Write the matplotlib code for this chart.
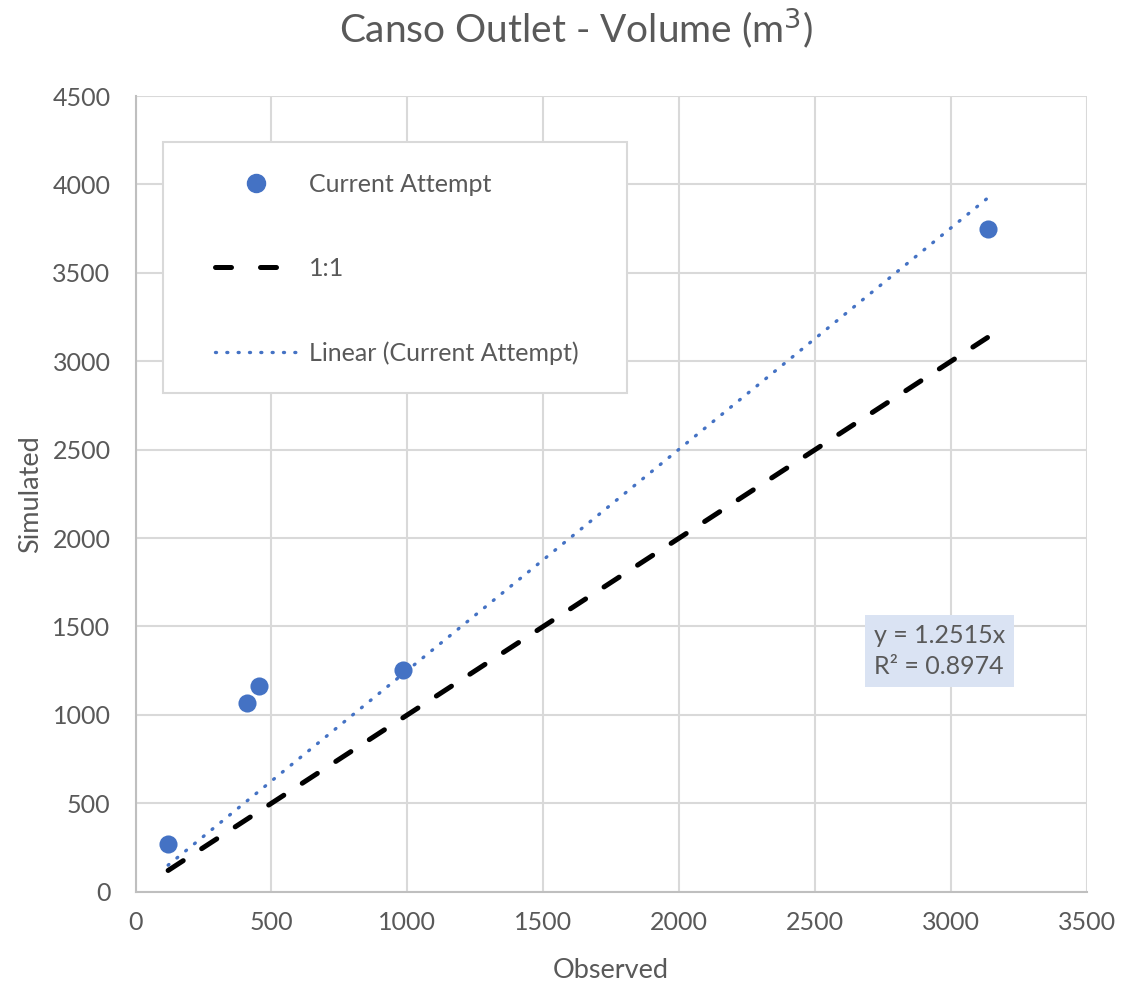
import matplotlib
matplotlib.use("Agg")
import matplotlib.pyplot as plt
from matplotlib.lines import Line2D
from matplotlib.patches import Rectangle

plt.rcParams['font.family'] = ['Lato', 'DejaVu Sans']

# Data
observed = [120, 409, 453, 985, 3134]
simulated = [268, 1066, 1163, 1254, 3748]
trend_slope = 1.2515
r_squared = 0.8974
x_ticks = [0, 500, 1000, 1500, 2000, 2500, 3000, 3500]
y_ticks = [0, 500, 1000, 1500, 2000, 2500, 3000, 3500, 4000, 4500]

W, H = 1123, 990
fig = plt.figure(figsize=(W / 100, H / 100), dpi=100)
ax = fig.add_axes([135.5 / W, 1 - 891.7 / H, (1087 - 135.5) / W, (891.7 - 96) / H])

text_col = '#595959'
grid_col = '#D9D9D9'
blue = '#4472C4'

ax.set_xlim(0, 3500)
ax.set_ylim(0, 4500)
ax.set_xticks(x_ticks)
ax.set_yticks(y_ticks)
ax.grid(True, color=grid_col, lw=1.5, zorder=0)
ax.set_axisbelow(True)
for s in ['top', 'right']:
    ax.spines[s].set_visible(False)
for s in ['left', 'bottom']:
    ax.spines[s].set_color('#BFBFBF')
    ax.spines[s].set_linewidth(1.5)
ax.tick_params(length=0, labelsize=18, labelcolor=text_col)
ax.tick_params(axis='y', pad=18)
ax.tick_params(axis='x', pad=14)

# 1:1 line
xmin, xmax = min(observed), max(observed)
one_line, = ax.plot([xmin, xmax], [xmin, xmax], color='black', lw=3.6,
                    dashes=(3.6, 4.4), dash_capstyle='round', zorder=2, label='1:1')
# Linear trend
trend, = ax.plot([xmin, xmax], [trend_slope * xmin, trend_slope * xmax], color=blue,
                 lw=2.4, dashes=(0.3, 3.1), dash_capstyle='round', zorder=2,
                 label='Linear (Current Attempt)')
pts = ax.scatter(observed, simulated, s=170, color=blue, zorder=3, label='Current Attempt',
                 linewidths=0)

fig.text(576 / W, 1 - 28 / H, 'Canso Outlet - Volume (m$^3$)', fontsize=28, color=text_col,
         ha='center', va='center')
ax.set_xlabel('Observed', fontsize=19.5, color=text_col, labelpad=17)
ax.set_ylabel('Simulated', fontsize=19.5, color=text_col, labelpad=7)

# legend frame
fig.patches.append(Rectangle((163 / W, 1 - 393 / H), (627 - 163) / W, (393 - 141.7) / H,
                             transform=fig.transFigure, facecolor='white',
                             edgecolor='#D9D9D9', lw=1.5, zorder=5))
handles = [Line2D([], [], marker='o', ls='none', color=blue, markersize=13),
           Line2D([], [], color='black', lw=3.6, dashes=(3.2, 5.8), dash_capstyle='round'),
           Line2D([], [], color=blue, lw=2.4, dashes=(0.3, 3.1), dash_capstyle='round')]
leg = fig.legend(handles, ['Current Attempt', '1:1', 'Linear (Current Attempt)'],
                 loc='upper left', bbox_to_anchor=(215 / W, 1 - 172.5 / H),
                 frameon=False, fontsize=18, labelcolor=text_col,
                 handlelength=3.3, handletextpad=0.45, labelspacing=2.46,
                 borderpad=0, borderaxespad=0)
leg.set_zorder(6)

# equation box
ax.text(2716, 1362, 'y = 1.2515x\nR² = 0.8974', fontsize=18, color=text_col,
        ha='left', va='center', linespacing=1.45, zorder=4,
        bbox=dict(boxstyle='square,pad=0.35', facecolor='#DAE3F3', edgecolor='none'))

fig.savefig('out.png', dpi=100)
